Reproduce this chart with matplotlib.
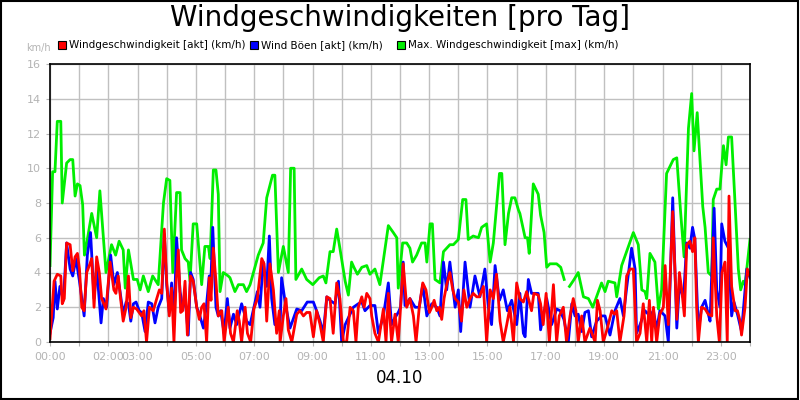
import matplotlib
matplotlib.use("Agg")
import matplotlib.pyplot as plt
import numpy as np
from matplotlib.patches import Rectangle

# time in hours of day, values in km/h
green_t = [0.00, 0.09, 0.17, 0.25, 0.37, 0.42, 0.57, 0.69, 0.78, 0.86, 0.94, 1.03, 1.12, 1.18, 1.26, 1.43, 1.60, 1.71, 1.92,
           2.11, 2.25, 2.37, 2.51, 2.58, 2.69, 2.86, 2.99, 3.09, 3.20, 3.37, 3.52, 3.71, 3.89, 4.00, 4.11, 4.21, 4.34, 4.46,
           4.51, 4.63, 4.74, 4.80, 4.91, 5.03, 5.20, 5.31, 5.43, 5.49, 5.60, 5.69, 5.77, 5.83, 5.94, 6.11, 6.17, 6.34, 6.46,
           6.63, 6.74, 6.86, 7.01, 7.14, 7.31, 7.43, 7.63, 7.71, 7.83, 8.00, 8.17, 8.25, 8.37, 8.43, 8.63, 8.80, 9.01, 9.23,
           9.37, 9.46, 9.60, 9.71, 9.83, 9.92, 10.12, 10.23, 10.34, 10.42, 10.54, 10.69, 10.86, 10.97, 11.14, 11.31, 11.60,
           11.77, 11.89, 11.94, 12.09, 12.23, 12.34, 12.43, 12.57, 12.74, 12.86, 12.92, 13.03, 13.11, 13.20, 13.37, 13.49,
           13.60, 13.71, 13.83, 14.00, 14.15, 14.26, 14.34, 14.51, 14.69, 14.80, 14.97, 15.09, 15.20, 15.41, 15.49, 15.60,
           15.72, 15.83, 15.94, 16.06, 16.11, 16.29, 16.37, 16.43, 16.57, 16.74, 16.82, 16.94, 17.03, 17.14, 17.37, 17.51,
           17.63, 17.72, 17.81, 17.97, 18.11, 18.29, 18.46, 18.61, 18.74, 18.91, 19.03, 19.14, 19.37, 19.43, 19.60, 19.83,
           20.00, 20.17, 20.29, 20.40, 20.46, 20.57, 20.74, 20.86, 20.97, 21.14, 21.37, 21.49, 21.62, 21.74, 21.89, 22.00,
           22.08, 22.19, 22.38, 22.46, 22.57, 22.69, 22.74, 22.86, 22.97, 23.09, 23.18, 23.26, 23.37, 23.49, 23.60, 23.68,
           23.77, 23.83, 24.00]
green_v = [4.4, 9.8, 9.8, 12.7, 12.7, 8.0, 10.3, 10.5, 10.5, 8.4, 9.1, 9.0, 7.9, 5.0, 5.7, 7.4, 6.0, 8.7, 4.0,
           5.6, 5.0, 5.8, 5.3, 3.1, 5.3, 3.6, 3.6, 3.0, 3.8, 2.9, 3.8, 3.3, 8.0, 9.4, 9.3, 4.0, 8.6, 8.6,
           5.3, 4.8, 4.6, 3.5, 6.8, 6.8, 3.3, 5.5, 5.5, 4.8, 9.9, 9.9, 8.5, 2.9, 4.0, 3.8, 3.7, 2.9, 3.3,
           3.3, 2.9, 3.3, 4.2, 5.0, 5.7, 8.3, 9.6, 9.6, 4.0, 5.5, 4.0, 10.0, 10.0, 3.6, 4.2, 3.6, 3.3, 3.7,
           3.8, 3.4, 5.2, 5.2, 6.5, 5.6, 3.5, 2.7, 4.6, 4.3, 3.9, 4.3, 4.4, 3.9, 4.2, 3.3, 6.7,
           6.3, 6.0, 3.1, 5.7, 5.7, 5.4, 4.6, 5.0, 5.7, 5.7, 4.6, 6.8, 6.8, 3.6, 3.4, 5.2,
           5.4, 5.6, 5.6, 5.9, 8.2, 8.2, 5.9, 6.1, 6.0, 6.6, 6.8, 4.6, 5.7, 9.7, 9.7, 5.6,
           7.4, 8.3, 8.3, 7.6, 7.4, 6.0, 6.0, 5.1, 9.1, 8.5, 7.3, 6.3, 4.3, 4.5, 4.5, 4.3,
           3.6, np.nan, 3.2, 3.6, 4.0, 2.6, 2.5, 2.0, 2.6, 3.4, 2.9, 3.5, 3.4, 2.6, 4.4, 5.5,
           6.3, 5.6, 3.0, 2.9, 2.5, 5.1, 4.6, 1.9, 3.0, 9.7, 10.5, 10.6, 7.5, 4.9, 12.3, 14.3,
           11.0, 13.2, 7.8, 6.6, 4.0, 3.8, 8.2, 8.8, 8.8, 11.3, 10.2, 11.8, 11.8, 7.9, 4.2, 3.0,
           3.5, 3.3, 5.9]

red_t = [0.00, 0.14, 0.25, 0.37, 0.42, 0.49, 0.57, 0.69, 0.78, 0.86, 0.94, 1.01, 1.09, 1.17, 1.26, 1.37, 1.43, 1.51, 1.60,
         1.69, 1.77, 1.92, 2.06, 2.19, 2.26, 2.34, 2.42, 2.51, 2.61, 2.69, 2.77, 2.86, 2.97, 3.14, 3.22, 3.31, 3.41, 3.54,
         3.66, 3.75, 3.83, 3.92, 4.00, 4.09, 4.17, 4.25, 4.32, 4.40, 4.48, 4.55, 4.63, 4.71, 4.82, 4.91, 5.03, 5.12, 5.20,
         5.28, 5.37, 5.46, 5.52, 5.60, 5.69, 5.77, 5.89, 5.97, 6.11, 6.19, 6.29, 6.42, 6.49, 6.57, 6.69, 6.77, 6.88, 6.99,
         7.11, 7.26, 7.34, 7.43, 7.54, 7.66, 7.77, 7.86, 7.89, 8.00, 8.09, 8.17, 8.29, 8.46, 8.57, 8.69, 8.80, 8.91, 9.03,
         9.14, 9.26, 9.37, 9.49, 9.60, 9.71, 9.83, 9.94, 10.06, 10.17, 10.29, 10.40, 10.49, 10.57, 10.69, 10.77, 10.86,
         10.97, 11.03, 11.14, 11.26, 11.43, 11.52, 11.60, 11.71, 11.83, 11.94, 12.02, 12.11, 12.23, 12.34, 12.46, 12.55,
         12.66, 12.78, 12.89, 13.01, 13.09, 13.17, 13.26, 13.35, 13.43, 13.51, 13.60, 13.71, 13.81, 13.89, 14.00, 14.11,
         14.19, 14.29, 14.40, 14.51, 14.63, 14.72, 14.86, 14.97, 15.09, 15.20, 15.31, 15.43, 15.54, 15.66, 15.77, 15.89,
         16.00, 16.11, 16.23, 16.34, 16.51, 16.59, 16.74, 16.82, 16.91, 17.01, 17.12, 17.26, 17.37, 17.46, 17.60, 17.71,
         17.83, 17.94, 18.03, 18.11, 18.23, 18.34, 18.51, 18.69, 18.77, 18.86, 18.97, 19.11, 19.26, 19.35, 19.43, 19.54,
         19.68, 19.77, 19.89, 20.00, 20.11, 20.23, 20.34, 20.46, 20.55, 20.63, 20.69, 20.80, 20.91, 21.03, 21.09, 21.20,
         21.35, 21.49, 21.58, 21.66, 21.75, 21.83, 21.94, 22.03, 22.11, 22.17, 22.23, 22.34, 22.46, 22.57, 22.69, 22.74,
         22.86, 22.95, 23.04, 23.14, 23.22, 23.28, 23.37, 23.49, 23.57, 23.66, 23.71, 23.83, 23.91, 24.00]
red_v = [0.2, 3.5, 3.9, 3.8, 2.2, 2.5, 5.7, 5.6, 4.1, 4.9, 5.1, 4.2, 2.0, 1.8, 4.0, 4.5, 4.8, 2.0, 4.9,
         4.0, 2.5, 1.9, 4.6, 3.0, 2.8, 3.8, 2.5, 1.2, 2.0, 3.8, 1.4, 2.0, 1.9, 1.5, 1.8, 0.0, 2.0, 1.8,
         2.5, 3.0, 2.8, 6.5, 3.5, 1.5, 3.1, 0.0, 3.3, 5.3, 1.7, 1.8, 3.5, 0.4, 3.8, 3.5, 2.0, 1.3, 2.0,
         2.2, 0.0, 3.7, 2.4, 5.4, 3.5, 1.5, 1.8, 0.0, 2.0, 0.5, 0.0, 1.8, 1.2, 0.0, 2.0, 0.5, 0.0, 1.9,
         2.5, 4.8, 4.5, 1.2, 4.5, 3.0, 0.5, 1.8, 0.0, 1.5, 2.5, 0.7, 0.0, 1.6, 1.8, 1.5, 1.7, 1.7, 0.3,
         1.8, 1.0, 0.0, 2.6, 2.5, 0.5, 3.4, 2.5, 0.0, 0.0, 2.0, 1.8, 0.0, 2.0, 2.6, 2.0, 2.8,
         2.5, 1.5, 0.5, 0.0, 1.9, 0.0, 2.8, 0.0, 1.6, 0.0, 2.0, 4.5, 2.0, 2.5, 1.5, 0.0,
         2.0, 3.4, 3.0, 1.7, 2.0, 2.4, 1.8, 2.0, 1.3, 2.5, 3.3, 4.0, 3.0, 2.5, 2.3, 1.2,
         3.0, 2.0, 2.5, 2.8, 2.6, 2.6, 3.2, 0.0, 3.0, 2.5, 3.9, 1.2, 0.0, 1.0, 2.0, 0.0,
         3.4, 2.5, 2.3, 2.9, 1.8, 2.8, 2.7, 2.2, 1.0, 2.8, 0.0, 3.3, 0.0, 1.5, 2.0, 0.0,
         1.5, 2.5, 1.8, 0.0, 1.5, 0.0, 0.8, 0.0, 2.4, 1.8, 0.0, 0.8, 1.8, 1.6, 1.8, 0.0,
         1.5, 3.8, 4.2, 4.2, 0.0, 0.5, 2.2, 0.0, 2.4, 0.0, 2.0, 0.0, 1.6, 2.0, 4.4, 1.0,
         7.5, 1.3, 4.0, 3.0, 1.5, 5.6, 5.8, 5.2, 6.0, 2.0, 0.0, 2.0, 1.9, 1.6, 1.5, 6.0,
         1.5, 0.0, 4.0, 4.6, 0.0, 8.4, 3.2, 1.8, 1.8, 1.2, 0.4, 2.0, 4.2, 3.8]

blue_t = [0.00, 0.11, 0.17, 0.25, 0.34, 0.46, 0.57, 0.69, 0.78, 0.89, 1.01, 1.09, 1.17, 1.28, 1.39, 1.51, 1.60, 1.75, 1.83,
          1.94, 2.08, 2.19, 2.31, 2.42, 2.51, 2.61, 2.69, 2.77, 2.86, 2.95, 3.06, 3.14, 3.26, 3.37, 3.49, 3.60, 3.71, 3.83,
          3.92, 4.00, 4.09, 4.17, 4.25, 4.34, 4.46, 4.55, 4.63, 4.74, 4.82, 4.91, 5.03, 5.12, 5.26, 5.37, 5.46, 5.52, 5.58,
          5.69, 5.77, 5.85, 5.97, 6.08, 6.17, 6.29, 6.40, 6.57, 6.74, 6.86, 6.99, 7.11, 7.20, 7.31, 7.43, 7.52, 7.60, 7.71,
          7.83, 7.89, 7.94, 8.09, 8.23, 8.46, 8.63, 8.82, 9.03, 9.14, 9.26, 9.37, 9.49, 9.60, 9.77, 9.89, 10.00, 10.12,
          10.29, 10.40, 10.57, 10.69, 10.80, 10.97, 11.14, 11.26, 11.43, 11.60, 11.71, 11.83, 11.94, 12.02, 12.11, 12.17,
          12.34, 12.52, 12.66, 12.78, 12.92, 13.09, 13.26, 13.37, 13.49, 13.60, 13.71, 13.89, 14.00, 14.08, 14.23, 14.40,
          14.57, 14.74, 14.91, 15.03, 15.14, 15.26, 15.41, 15.54, 15.68, 15.83, 16.00, 16.11, 16.23, 16.29, 16.40, 16.51,
          16.74, 16.82, 17.03, 17.20, 17.37, 17.49, 17.62, 17.77, 17.89, 18.00, 18.11, 18.23, 18.34, 18.46, 18.57, 18.74,
          18.91, 19.03, 19.20, 19.37, 19.54, 19.66, 19.77, 19.94, 20.06, 20.11, 20.23, 20.40, 20.57, 20.69, 20.80, 20.91,
          21.09, 21.20, 21.35, 21.49, 21.58, 21.72, 21.83, 21.94, 22.03, 22.11, 22.23, 22.34, 22.46, 22.57, 22.63, 22.77,
          22.86, 22.97, 23.03, 23.14, 23.26, 23.37, 23.45, 23.57, 23.71, 23.89, 24.00]
blue_v = [0.5, 1.4, 3.5, 1.9, 3.2, 2.4, 5.7, 4.2, 3.8, 4.8, 3.5, 2.5, 1.5, 5.0, 6.3, 2.5, 4.3, 1.1, 2.5,
          2.0, 5.0, 3.3, 4.0, 2.7, 1.6, 2.3, 2.2, 1.2, 2.2, 2.3, 1.8, 1.7, 0.6, 2.3, 2.2, 1.1, 2.0, 2.5,
          6.2, 3.3, 1.7, 3.4, 1.0, 6.0, 2.9, 2.0, 2.6, 0.4, 4.0, 3.6, 2.0, 1.6, 0.8, 2.2, 3.8, 3.7, 6.6,
          2.0, 1.5, 1.8, 0.5, 2.5, 0.8, 1.6, 1.0, 2.2, 1.2, 1.0, 2.0, 2.9, 2.0, 4.6, 3.2, 6.1, 2.5, 1.0,
          1.3, 1.0, 3.7, 2.0, 0.8, 1.9, 1.8, 2.3, 2.3, 1.8, 1.2, 0.5, 2.6, 2.4, 2.2, 3.5, 0.0, 1.0,
          1.6, 2.0, 2.2, 2.3, 1.8, 2.1, 2.1, 0.5, 1.5, 3.4, 1.0, 1.4, 1.7, 2.0, 4.6, 2.1,
          2.5, 2.0, 2.0, 3.3, 1.5, 2.2, 2.0, 1.5, 4.6, 3.0, 4.6, 2.0, 3.0, 0.6, 4.6, 2.0,
          3.8, 2.6, 4.2, 2.0, 1.0, 4.4, 2.4, 3.0, 1.8, 2.4, 1.0, 2.8, 0.5, 0.3, 3.6, 2.8,
          2.8, 0.7, 2.5, 1.0, 1.9, 1.8, 1.3, 0.0, 2.2, 1.5, 1.6, 0.6, 1.7, 1.8, 0.3, 1.2,
          1.5, 1.5, 0.4, 1.8, 2.5, 1.5, 3.1, 5.4, 4.2, 0.5, 1.0, 1.8, 1.5, 1.8, 0.7, 1.8,
          1.5, 0.0, 8.3, 0.8, 3.3, 2.5, 5.7, 5.4, 6.6, 5.9, 0.6, 2.0, 2.4, 1.6, 1.2, 7.7,
          3.0, 2.0, 6.8, 5.8, 5.4, 1.5, 2.3, 1.6, 0.6, 4.2, 3.7]

tick_hours = [0, 2, 3, 5, 7, 9, 11, 13, 15, 17, 19, 21, 23]
tick_labels = ["00:00", "02:00", "03:00", "05:00", "07:00", "09:00", "11:00",
               "13:00", "15:00", "17:00", "19:00", "21:00", "23:00"]
series_labels = ["Windgeschwindigkeit [akt] (km/h)", "Wind Böen [akt] (km/h)",
                 "Max. Windgeschwindigkeit [max] (km/h)"]

RED, BLUE, GREEN = "#ff0000", "#0000ff", "#00ee00"
GREY = "#b4b4b4"

fig = plt.figure(figsize=(8, 4), dpi=100)
fig.patches.append(Rectangle((0.001, 0.002), 0.997, 0.995, transform=fig.transFigure,
                             fill=False, edgecolor="black", linewidth=1.5))
ax = fig.add_axes([50 / 800, 1 - 342 / 400, 700 / 800, 278 / 400])

ax.plot(green_t, green_v, color=GREEN, linewidth=2)
ax.plot(blue_t, blue_v, color=BLUE, linewidth=2)
ax.plot(red_t, red_v, color=RED, linewidth=2)

ax.set_xlim(0, 24)
ax.set_ylim(0, 16)
ax.set_xticks(range(25))
ax.set_xticklabels(["" for _ in range(25)])
for h, lab in zip(tick_hours, tick_labels):
    ax.text(h, -0.55, lab, ha="center", va="top", fontsize=8, color=GREY)
ax.set_yticks(range(0, 17, 2))
ax.tick_params(axis="y", labelsize=8, labelcolor=GREY, color=GREY, length=3)
ax.tick_params(axis="x", color=GREY, length=3)
ax.grid(True, color="#c0c0c0", linewidth=1)
ax.set_axisbelow(True)
for s in ax.spines.values():
    s.set_linewidth(1.2)

fig.text(0.5, 1 - 18 / 400, "Windgeschwindigkeiten [pro Tag]", ha="center", va="center", fontsize=20)
fig.text(0.5, 1 - 378 / 400, "04.10", ha="center", va="center", fontsize=12)
fig.text(26 / 800, 1 - 48 / 400, "km/h", ha="left", va="center", fontsize=7, color=GREY)

legend_x = [58, 250, 397]
for x, col, lab in zip(legend_x, [RED, BLUE, GREEN], series_labels):
    fig.patches.append(Rectangle((x / 800, 1 - 49 / 400), 8 / 800, 8 / 400, transform=fig.transFigure,
                                 facecolor=col, edgecolor="black", linewidth=0.8))
    fig.text((x + 11) / 800, 1 - 45 / 400, lab, ha="left", va="center", fontsize=7.5)

fig.savefig("out.png", dpi=100)
